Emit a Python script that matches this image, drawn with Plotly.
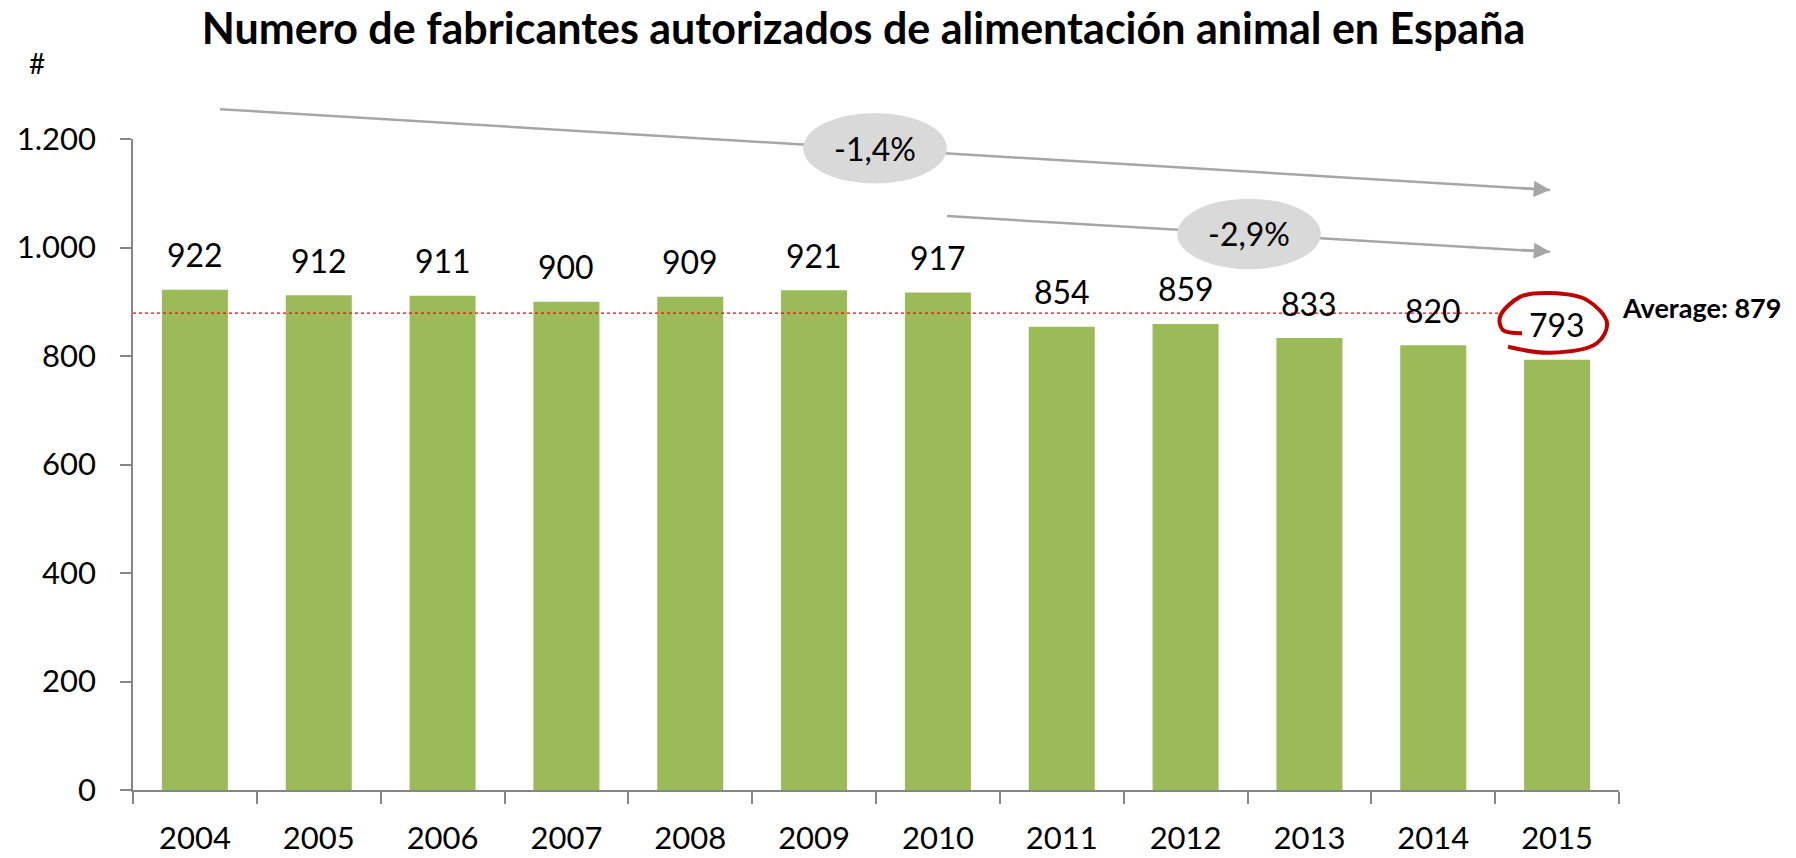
import plotly.graph_objects as go

years = ["2004", "2005", "2006", "2007", "2008", "2009",
         "2010", "2011", "2012", "2013", "2014", "2015"]
manufacturers = [922, 912, 911, 900, 909, 921, 917, 854, 859, 833, 820, 793]
trend_labels = ["-1,4%", "-2,9%"]
y_ticks = [0, 200, 400, 600, 800, 1000, 1200]

average_value = round(sum(manufacturers) / len(manufacturers))

GREEN = "#9BBB59"
AXIS_GREY = "#868686"
ARROW_GREY = "#A6A6A6"
FONT = "Lato"
Y_MAX = 1200
N = len(years)


def xd(i):
    # category index -> x domain fraction (shapes in domain units are not clipped)
    return (i + 0.5) / N


def yd(v):
    return v / Y_MAX


fig = go.Figure()

fig.add_trace(go.Bar(
    x=years,
    y=manufacturers,
    marker=dict(color=GREEN, line=dict(width=0)),
    hoverinfo="x+y",
))

# hand-drawn red loop round the last value (on a linear overlay axis)
loop_x = [10.717, 10.563, 10.539, 10.701, 10.943, 11.242, 11.403, 11.323, 10.943, 10.604]
loop_y = [842, 848, 872, 909, 916, 903, 861, 824, 806, 817]
fig.add_trace(go.Scatter(
    x=loop_x, y=loop_y, xaxis="x2", yaxis="y",
    mode="lines", line=dict(color="#C00000", width=4, shape="spline"),
    hoverinfo="skip", showlegend=False,
))

# value labels above the bars
for i, val in enumerate(manufacturers):
    fig.add_annotation(
        x=i, y=val, xref="x2", yref="y", text=str(val),
        showarrow=False, yanchor="middle", yshift=35,
        font=dict(family=FONT, size=32, color="black"),
    )

# trend arrows: shafts first, then the grey ellipses on top
arrows = [((0.203, 1255), (10.943, 1106)), ((6.074, 1058), (10.943, 992))]
for (x0, y0), (x1, y1) in arrows:
    fig.add_shape(type="line", xref="x domain", yref="y domain",
                  x0=xd(x0), y0=yd(y0), x1=xd(x1), y1=yd(y1),
                  line=dict(color=ARROW_GREY, width=2.5))
    fig.add_annotation(x=x1, y=y1, xref="x2", yref="y", text="",
                       showarrow=True, arrowhead=2, arrowsize=1.3, arrowwidth=2.5,
                       arrowcolor=ARROW_GREY, ax=-30, ay=-2, standoff=0)

ellipses = [(5.492, 1183), (8.512, 1025)]
for (cx, cy), label in zip(ellipses, trend_labels):
    fig.add_shape(type="circle", xref="x domain", yref="y domain",
                  x0=xd(cx - 0.58), x1=xd(cx + 0.58), y0=yd(cy - 65), y1=yd(cy + 65),
                  fillcolor="#D9D9D9", line=dict(width=0))
    fig.add_annotation(x=cx, y=cy, xref="x2", yref="y", text=label,
                       showarrow=False, font=dict(family=FONT, size=32, color="black"))

# average line
fig.add_shape(type="line", xref="x domain", yref="y domain", x0=0, x1=xd(10.56),
              y0=yd(average_value), y1=yd(average_value),
              line=dict(color="#FF0000", width=1.2, dash="dot"))
fig.add_annotation(x=1.0007, y=average_value, xref="paper", yref="y",
                   text=f"<b>Average: {average_value}</b>", showarrow=False,
                   xanchor="left", yanchor="middle", yshift=6,
                   font=dict(family=FONT, size=27, color="black"))

fig.add_annotation(x=-0.0646, y=1.1167, xref="paper", yref="paper", text="#",
                   showarrow=False, xanchor="center", yanchor="middle",
                   font=dict(family=FONT, size=28, color="black"))

fig.update_layout(
    width=1796,
    height=858,
    margin=dict(l=133, r=177, t=139, b=68),
    plot_bgcolor="white",
    paper_bgcolor="white",
    font=dict(family=FONT, size=31, color="black"),
    separators=",.",
    bargap=0.467,
    showlegend=False,
    title=dict(
        text="<b>Numero de fabricantes autorizados de alimentación animal en España</b>",
        x=0.4808, xanchor="center", y=1 - 29 / 858, yanchor="middle",
        font=dict(family=FONT, size=43, color="black"),
    ),
    xaxis=dict(
        type="category", showline=True, linecolor=AXIS_GREY, linewidth=1.5,
        ticks="outside", tickson="boundaries", ticklen=12, tickcolor=AXIS_GREY,
        tickwidth=1.5, showgrid=False, ticklabelstandoff=20, automargin=False,
        tickangle=0,
    ),
    xaxis2=dict(overlaying="x", range=[-0.5, N - 0.5], visible=False),
    yaxis=dict(
        range=[0, Y_MAX], tickvals=y_ticks, separatethousands=True,
        showline=True, linecolor=AXIS_GREY, linewidth=1.5,
        ticks="outside", ticklen=11, tickcolor=AXIS_GREY, tickwidth=1.5,
        showgrid=False, zeroline=False, ticklabelstandoff=18, automargin=False,
    ),
)

fig.write_html("out.html", config={"displayModeBar": False},
               post_script="document.body.style.margin='0';")
